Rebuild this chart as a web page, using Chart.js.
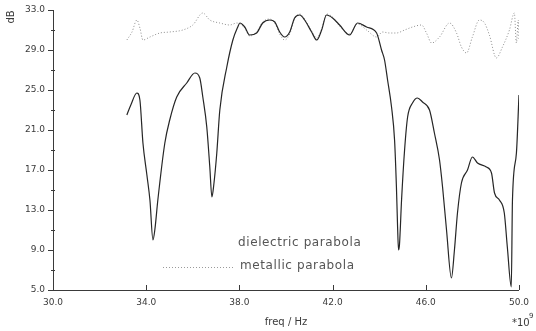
<!DOCTYPE html>
<html>
<head>
<meta charset="utf-8">
<script src="https://cdn.jsdelivr.net/npm/chart.js@4/dist/chart.umd.min.js"></script>
<style>
  html, body { margin: 0; padding: 0; background: #fff; }
  #wrap { width: 536px; height: 331px; position: relative; }
</style>
</head>
<body>
<div id="wrap"><canvas id="chart"></canvas></div>
<script>
// freq in GHz (axis shows x10^9), level in dB
const dielectricFreq = [
  33.17, 33.34, 33.60, 33.73, 33.86, 34.03, 34.16, 34.29, 34.37, 34.50,
  34.80, 35.01, 35.31, 35.74, 36.09, 36.30, 36.43, 36.60, 36.73, 36.82,
  36.90, 37.03, 37.16, 37.46, 37.72, 37.93, 38.02, 38.23, 38.44, 38.74,
  39.00, 39.30, 39.52, 39.73, 39.94, 40.16, 40.37, 40.59, 40.80, 41.10,
  41.32, 41.53, 41.74, 42.00, 42.30, 42.73, 43.07, 43.46, 43.89, 44.10,
  44.23, 44.36, 44.53, 44.66, 44.74, 44.79, 44.83, 44.87, 44.96, 45.09,
  45.22, 45.43, 45.64, 45.86, 46.16, 46.37, 46.59, 46.72, 46.89, 47.10,
  47.23, 47.36, 47.53, 47.79, 48.00, 48.22, 48.60, 48.82, 48.95, 49.16,
  49.37, 49.50, 49.67, 49.72, 49.89, 50.00,
];
const dielectricDb = [
  22.5, 23.5, 24.7, 24.0, 19.7, 16.5, 14.0, 10.0, 11.0, 14.0,
  19.7, 22.0, 24.3, 25.7, 26.7, 26.2, 24.3, 21.3, 17.3, 14.3,
  15.5, 18.7, 23.0, 27.3, 30.0, 31.3, 31.7, 31.3, 30.5, 30.7,
  31.7, 32.0, 31.8, 30.8, 30.3, 30.8, 32.2, 32.5, 32.0, 30.8,
  30.0, 31.0, 32.5, 32.2, 31.5, 30.5, 31.7, 31.3, 30.7, 29.0,
  28.0, 26.0, 23.3, 20.0, 15.3, 11.3, 9.0, 9.5, 14.0, 19.0,
  22.3, 23.7, 24.2, 23.8, 23.0, 20.7, 18.0, 15.3, 11.0, 6.2,
  9.0, 12.7, 15.7, 17.0, 18.3, 17.7, 17.3, 16.7, 14.7, 14.0,
  12.7, 9.3, 5.3, 14.0, 18.7, 24.5,
];

const metallicFreq = [
  33.17, 33.39, 33.60, 33.73, 33.86, 34.16, 34.59, 35.01, 35.57, 36.00,
  36.43, 36.73, 37.16, 37.59, 37.89, 38.02, 38.23, 38.44, 38.74, 39.00,
  39.30, 39.52, 39.73, 39.94, 40.16, 40.37, 40.59, 40.80, 41.10, 41.32,
  41.53, 41.74, 42.00, 42.30, 42.73, 43.07, 43.46, 43.89, 44.14, 44.44,
  44.74, 45.09, 45.43, 45.82, 46.03, 46.25, 46.59, 47.02, 47.32, 47.53,
  47.75, 48.00, 48.30, 48.52, 48.73, 49.03, 49.29, 49.59, 49.80, 49.89,
  49.97, 50.00,
];
const metallicDb = [
  30.0, 30.8, 32.0, 31.2, 30.0, 30.3, 30.7, 30.8, 31.0, 31.5,
  32.7, 32.0, 31.7, 31.5, 31.7, 31.6, 31.2, 30.4, 30.8, 31.8,
  32.1, 31.7, 30.6, 30.0, 30.6, 32.1, 32.6, 32.1, 30.9, 30.2,
  31.1, 32.6, 32.3, 31.4, 30.6, 31.6, 31.0, 30.3, 30.8, 30.7,
  30.7, 31.0, 31.3, 31.5, 30.7, 29.7, 30.3, 31.7, 30.7, 29.3,
  28.7, 30.3, 32.0, 31.7, 30.5, 28.2, 29.3, 31.0, 32.7, 29.7,
  32.0, 30.0,
];

const xMin = 30, xMax = 50, xStep = 4;
const yMin = 5, yMax = 33, yStep = 4;

const INK = "#3a3a3a";
const FONT = "'DejaVu Sans', sans-serif";

function pairs(xs, ys) {
  return xs.map((x, i) => ({ x, y: ys[i] }));
}

const decorations = {
  id: "decorations",
  afterDraw(chart) {
    const { ctx, chartArea, scales } = chart;
    const xs = scales.x, ys = scales.y;
    ctx.save();
    ctx.strokeStyle = INK;
    ctx.lineWidth = 1;

    // small inward ticks on the x axis
    for (let v = xMin; v <= xMax; v += xStep) {
      const px = Math.round(xs.getPixelForValue(v)) + 0.5;
      ctx.beginPath();
      ctx.moveTo(px, chartArea.bottom);
      ctx.lineTo(px, chartArea.bottom - 5);
      ctx.stroke();
    }
    // minor ticks on the y axis
    for (let v = yMin + yStep / 2; v < yMax; v += yStep) {
      const py = Math.round(ys.getPixelForValue(v)) + 0.5;
      ctx.beginPath();
      ctx.moveTo(chartArea.left - 2, py);
      ctx.lineTo(chartArea.left + 2, py);
      ctx.stroke();
    }

    ctx.fillStyle = INK;
    // y title at top-left, rotated
    ctx.save();
    ctx.translate(11, 17);
    ctx.rotate(-Math.PI / 2);
    ctx.font = `10px ${FONT}`;
    ctx.textAlign = "center";
    ctx.textBaseline = "middle";
    ctx.fillText("dB", 0, 0);
    ctx.restore();

    // x10^9 multiplier
    ctx.font = `10px ${FONT}`;
    ctx.textAlign = "left";
    ctx.textBaseline = "alphabetic";
    ctx.fillText("*10", 512, 326);
    ctx.font = `7px ${FONT}`;
    ctx.fillText("9", 529, 318);

    // legend
    ctx.font = `12px ${FONT}`;
    ctx.letterSpacing = "0.6px";
    ctx.textBaseline = "middle";
    ctx.fillStyle = "#555";
    ctx.fillText("dielectric parabola", 238, 243);
    ctx.fillText("metallic parabola", 240, 266);
    ctx.strokeStyle = "#9a9a9a";
    ctx.setLineDash([1, 2]);
    ctx.beginPath();
    ctx.moveTo(163, 267.5);
    ctx.lineTo(233, 267.5);
    ctx.stroke();
    ctx.restore();
  },
};

new Chart(document.getElementById("chart"), {
  type: "line",
  data: {
    datasets: [
      {
        label: "dielectric parabola",
        data: pairs(dielectricFreq, dielectricDb),
        borderColor: "#262626",
        borderWidth: 1.2,
        pointRadius: 0,
        cubicInterpolationMode: "monotone",
      },
      {
        label: "metallic parabola",
        data: pairs(metallicFreq, metallicDb),
        borderColor: "#8c8c8c",
        borderWidth: 1,
        borderDash: [1, 2],
        pointRadius: 0,
        cubicInterpolationMode: "monotone",
      },
    ],
  },
  options: {
    responsive: true,
    maintainAspectRatio: false,
    animation: false,
    layout: { padding: { top: 10, right: 16, left: 0, bottom: 0 } },
    plugins: { legend: { display: false }, tooltip: { enabled: false } },
    scales: {
      x: {
        type: "linear",
        min: xMin,
        max: xMax,
        afterFit: (s) => { s.height = 41; },
        ticks: {
          stepSize: xStep,
          color: INK,
          font: { family: FONT, size: 9 },
          padding: 7,
          maxRotation: 0,
          callback: (v) => v.toFixed(1),
        },
        grid: { display: false, drawTicks: false },
        border: { color: INK, dash: [2, 1], width: 1 },
        title: {
          display: true,
          text: "freq / Hz",
          color: INK,
          font: { family: FONT, size: 10 },
          padding: { top: 2, bottom: 3 },
        },
      },
      y: {
        min: yMin,
        max: yMax,
        afterFit: (s) => { s.width = 53; },
        ticks: {
          stepSize: yStep,
          color: INK,
          font: { family: FONT, size: 9 },
          padding: 3,
          callback: (v) => v.toFixed(1),
        },
        grid: { drawOnChartArea: false, tickLength: 5, color: INK },
        border: { color: INK, dash: [2, 1], width: 1 },
      },
    },
  },
  plugins: [decorations],
});
</script>
</body>
</html>
